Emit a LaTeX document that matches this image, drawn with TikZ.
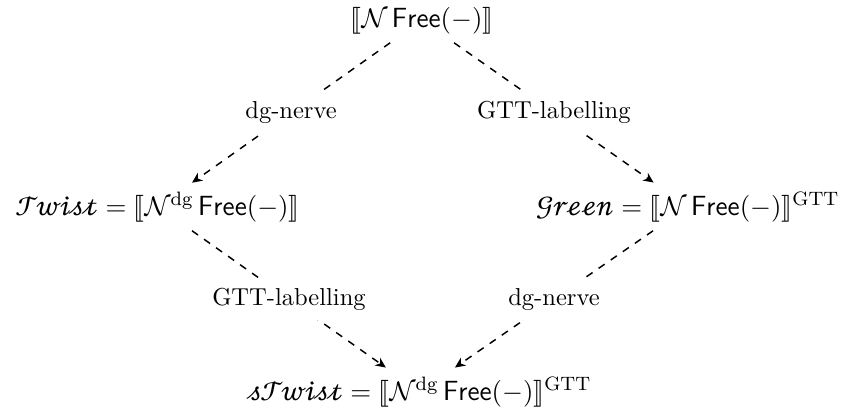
\documentclass[tikz,border=0pt]{standalone}
\usepackage{fontspec}
\usepackage{stmaryrd}
\usetikzlibrary{arrows.meta}
% script letters for the names of the functors
\newfontfamily\scrfont{STIX Two Math}
\newcommand\scrname[1]{\mbox{\scrfont #1}}
\begin{document}
\begin{tikzpicture}[x=0.408pt,y=-0.408pt,
  obj/.style={inner sep=3.5pt, font=\fontsize{11.3}{13.5}\selectfont, anchor=base},
  lbl/.style={fill=white, inner sep=4pt, font=\fontsize{10}{12}\selectfont},
  map/.style={draw, dashed, line width=0.6pt,
    -{Stealth[length=4.2pt, width=3.8pt, inset=1.3pt]}}]
\useasboundingbox (0,0) rectangle (848,418);
% the four corners of the square
\node[obj] (top) at (422,27) {$\llbracket\mathcal{N}\,\mathsf{Free}(-)\rrbracket$};
\node[obj] (left) at (158,215) {$\scrname{𝒯𝓌𝒾𝓈𝓉}=\llbracket\mathcal{N}^{\mathrm{dg}}\,\mathsf{Free}(-)\rrbracket$};
\node[obj] (right) at (688,215) {$\scrname{𝒢𝓇ℯℯ𝓃}=\llbracket\mathcal{N}\,\mathsf{Free}(-)\rrbracket^{\mathrm{GTT}}$};
\node[obj] (bottom) at (420,400) {$\scrname{𝓈𝒯𝓌𝒾𝓈𝓉}=\llbracket\mathcal{N}^{\mathrm{dg}}\,\mathsf{Free}(-)\rrbracket^{\mathrm{GTT}}$};
% the dashed maps between them
\draw[map] (top) -- node[lbl] {dg-nerve} (left);
\draw[map] (top) -- node[lbl] {GTT-labelling} (right);
\draw[map] (left) -- node[lbl] {GTT-labelling} (bottom);
\draw[map] (right) -- node[lbl] {dg-nerve} (bottom);
\end{tikzpicture}
\end{document}
